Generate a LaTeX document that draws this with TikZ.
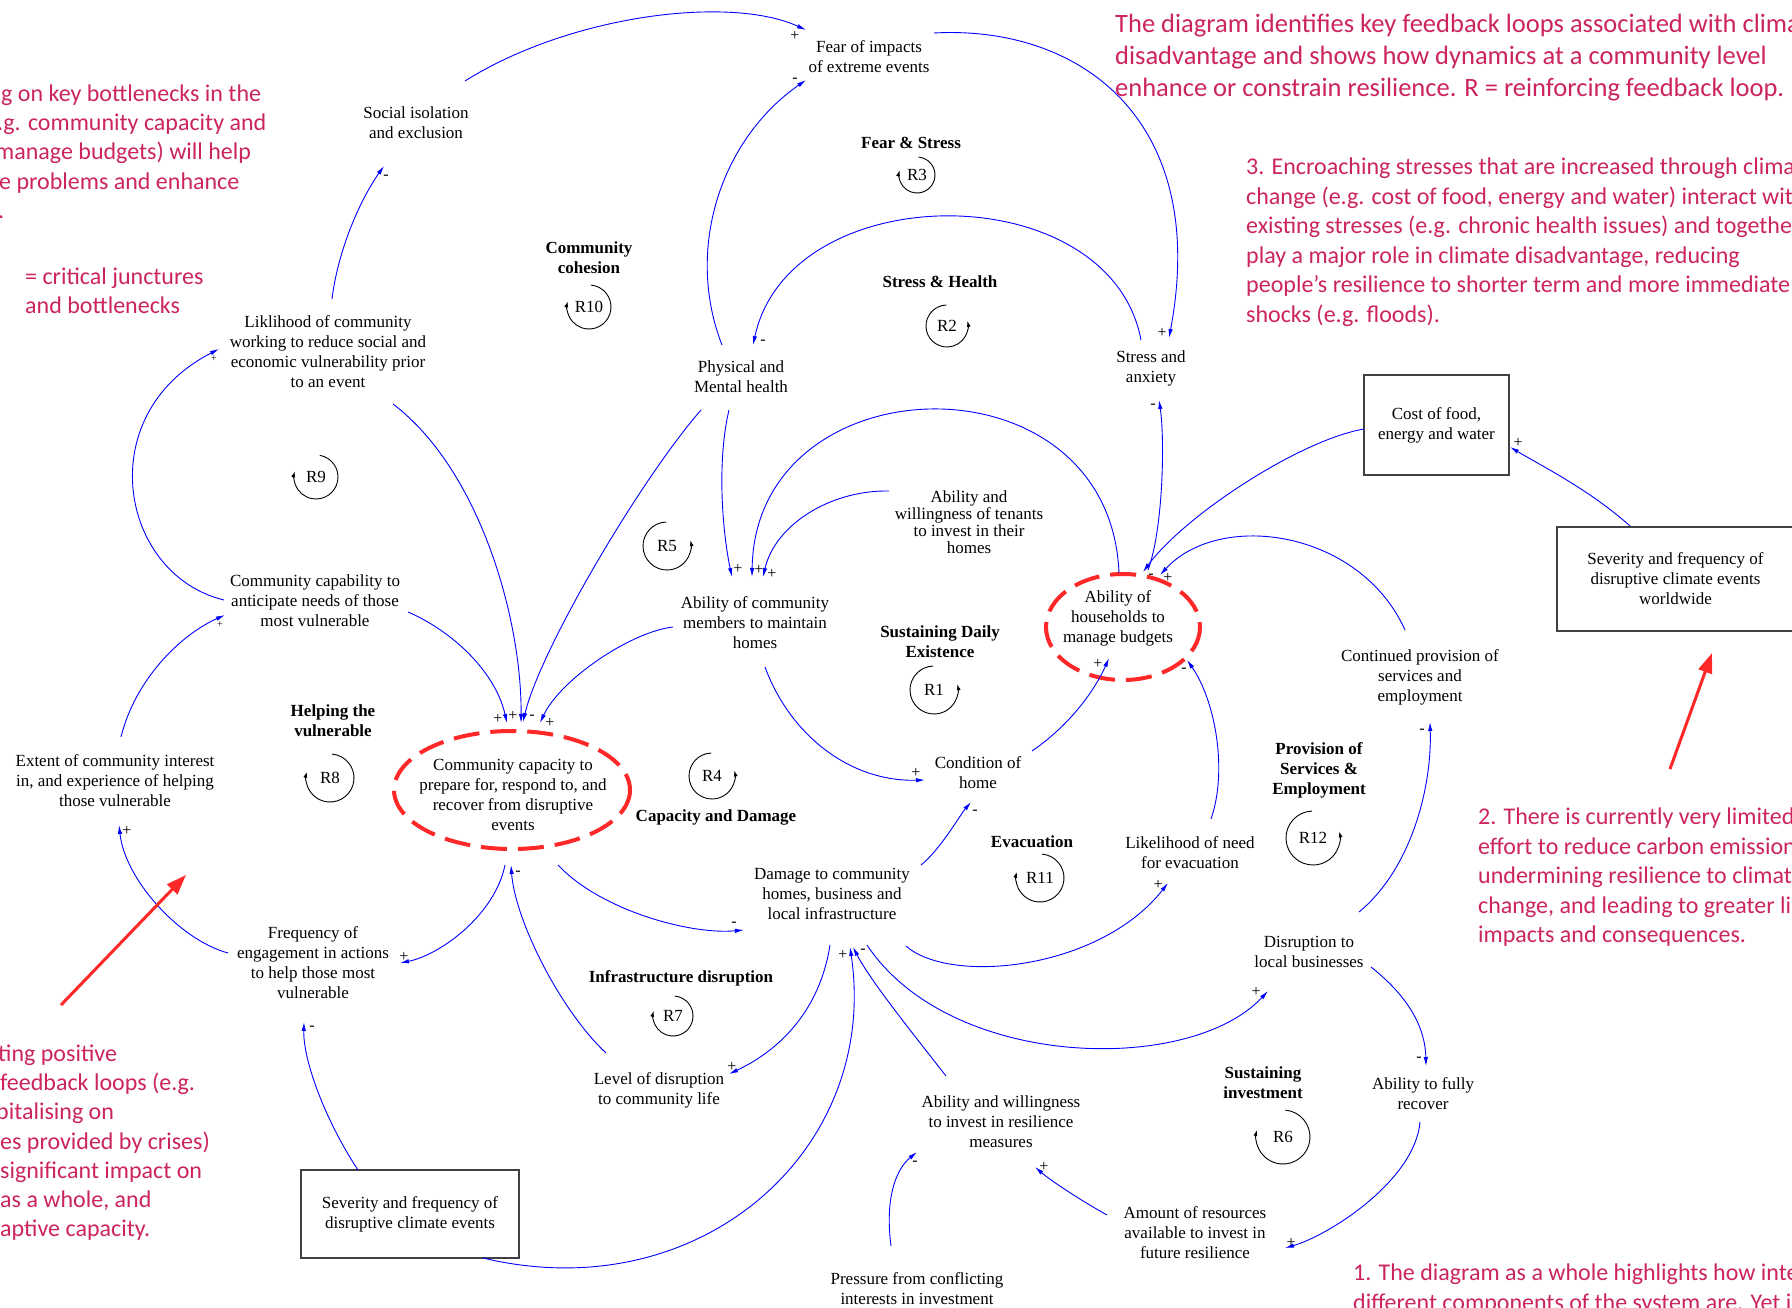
\documentclass[tikz,border=0pt]{standalone}
\usepackage{fontspec}
\setmainfont{Liberation Serif}
\newfontfamily\calib{Carlito}
\usetikzlibrary{arrows.meta}
\definecolor{pinktxt}{RGB}{204,36,96}
\definecolor{critred}{RGB}{255,40,40}
\definecolor{lnk}{RGB}{0,0,255}
\begin{document}
\begin{tikzpicture}[x=1pt,y=-1pt,
 var/.style={font=\fontsize{17}{20}\selectfont, align=center, inner sep=0pt},
 tvar/.style={font=\fontsize{17}{17}\selectfont, align=center, inner sep=0pt},
 lname/.style={font=\bfseries\fontsize{17}{20}\selectfont, align=center, inner sep=0pt},
 rname/.style={font=\fontsize{17}{20}\selectfont, inner sep=0pt},
 extbox/.style={draw=black!75, line width=1.1pt, font=\fontsize{17}{20}\selectfont, align=center, inner sep=0pt},
 lk/.style={draw=lnk, line width=0.9pt, -{Latex[length=9pt,width=4.5pt]}},
 pol/.style={font=\fontsize{16}{16}\selectfont, inner sep=0pt},
 spol/.style={font=\fontsize{10}{10}\selectfont, inner sep=0pt},
 loopar/.style={draw=black, line width=0.9pt, -{Latex[length=6pt,width=4pt]}},
 crit/.style={draw=critred, line width=4pt, dash pattern=on 26pt off 11pt},
 note/.style={font=\calib\fontsize{24}{29.5}\selectfont, text=pinktxt, anchor=base west, inner sep=0pt},
 notebig/.style={font=\calib\fontsize{26.5}{32}\selectfont, text=pinktxt, anchor=base west, inner sep=0pt},
 redarr/.style={draw=critred, line width=3pt, -{Triangle[length=20pt,width=14pt]}}
]
\useasboundingbox (0,0) rectangle (1792,1308);
\begin{scope}
\clip (0,0) rectangle (1792,1308);
\fill[white] (0,0) rectangle (1792,1308);

% ---------- variables ----------
\node[var] (fear) at (869,57) {Fear of impacts\\of extreme events};
\node[var] (soc) at (416,123) {Social isolation\\and exclusion};
\node[lname] (lfs) at (911,143) {Fear \& Stress};
\node[lname] (lcc) at (589,258) {Community\\cohesion};
\node[lname] (lsh) at (940,282) {Stress \& Health};
\node[var] (lik) at (328,352) {Liklihood of community\\working to reduce social and\\economic vulnerability prior\\to an event};
\node[var] (phys) at (741,377) {Physical and\\Mental health};
\node[var] (stress) at (1151,368) {Stress and\\anxiety};
\node[extbox, minimum width=145pt, minimum height=100pt] (cost) at (1436.5,425) {Cost of food,\\energy and water};
\node[tvar] (ten) at (969,522) {Ability and\\willingness of tenants\\to invest in their\\homes};
\node[var] (capab) at (315,601) {Community capability to\\anticipate needs of those\\most vulnerable};
\node[var] (acm) at (755,623) {Ability of community\\members to maintain\\homes};
\node[var] (hh) at (1118,618) {Ability of\\households to\\manage budgets};
\node[extbox, minimum width=237pt, minimum height=104pt] (sevw) at (1675.5,579) {Severity and frequency of\\disruptive climate events\\worldwide};
\node[var] (cont) at (1420,677) {Continued provision of\\services and\\employment};
\node[lname] (lsd) at (940,642) {Sustaining Daily\\Existence};
\node[lname] (lhv) at (333,721) {Helping the\\vulnerable};
\node[var] (ext) at (115,781) {Extent of community interest\\in, and experience of helping\\those vulnerable};
\node[var] (cap) at (513,795) {Community capacity to\\prepare for, respond to, and\\recover from disruptive\\events};
\node[var] (cond) at (978,773) {Condition of\\home};
\node[lname] (lpse) at (1319,770) {Provision of\\Services \&\\Employment};
\node[lname] (lcd) at (716,817) {Capacity and Damage};
\node[lname] (levac) at (1032,842) {Evacuation};
\node[var] (likev) at (1190,853) {Likelihood of need\\for evacuation};
\node[var] (dmg) at (832,894) {Damage to community\\homes, business and\\local infrastructure};
\node[var] (disb) at (1309,952) {Disruption to\\local businesses};
\node[var] (freq) at (313,963) {Frequency of\\engagement in actions\\to help those most\\vulnerable};
\node[lname] (lid) at (681,978) {Infrastructure disruption};
\node[lname] (lsi) at (1263,1083) {Sustaining\\investment};
\node[var] (lev) at (659,1090) {Level of disruption\\to community life};
\node[var] (rec) at (1423,1094) {Ability to fully\\recover};
\node[var] (awr) at (1001,1122) {Ability and willingness\\to invest in resilience\\measures};
\node[extbox, minimum width=218pt, minimum height=88pt] (sevl) at (410,1214) {Severity and frequency of\\disruptive climate events};
\node[var] (amt) at (1195,1233) {Amount of resources\\available to invest in\\future resilience};
\node[var] (press) at (917,1289) {Pressure from conflicting\\interests in investment};

% ---------- critical junctures ----------
\draw[crit] ([shift={(-1,-5)}]cap.center) ellipse [x radius=118, y radius=59];
\draw[crit] ([shift={(5,9)}]hh.center) ellipse [x radius=77, y radius=53];

% ---------- loop symbols ----------
\node[rname] (r3) at (917,175) {R3};
\draw[loopar] (r3.center) ++(-85:18) arc[start angle=-85,end angle=195,radius=18];
\node[rname] (r2) at (947,326) {R2};
\draw[loopar] (r2.center) ++(268:21) arc[start angle=268,end angle=-14,radius=21];
\node[rname] (r10) at (589,307) {R10};
\draw[loopar] (r10.center) ++(-85:22) arc[start angle=-85,end angle=195,radius=22];
\node[rname] (r9) at (316,477) {R9};
\draw[loopar] (r9.center) ++(-80:22) arc[start angle=-80,end angle=195,radius=22];
\node[rname] (r8) at (330,778) {R8};
\draw[loopar] (r8.center) ++(-85:24) arc[start angle=-85,end angle=195,radius=24];
\node[rname] (r5) at (667,546) {R5};
\draw[loopar] (r5.center) ++(268:24) arc[start angle=268,end angle=-14,radius=24];
\node[rname] (r1) at (934,690) {R1};
\draw[loopar] (r1.center) ++(268:24) arc[start angle=268,end angle=-14,radius=24];
\node[rname] (r4) at (712,776) {R4};
\draw[loopar] (r4.center) ++(268:23) arc[start angle=268,end angle=-14,radius=23];
\node[rname] (r12) at (1313,838) {R12};
\draw[loopar] (r12.center) ++(268:27) arc[start angle=268,end angle=-14,radius=27];
\node[rname] (r11) at (1040,878) {R11};
\draw[loopar] (r11.center) ++(-85:24) arc[start angle=-85,end angle=195,radius=24];
\node[rname] (r7) at (673,1016) {R7};
\draw[loopar] (r7.center) ++(-85:20) arc[start angle=-85,end angle=195,radius=20];
\node[rname] (r6) at (1283,1137) {R6};
\draw[loopar] (r6.center) ++(-85:27) arc[start angle=-85,end angle=195,radius=27];

% ---------- causal links ----------
\draw[lk] ([shift={(49,-42)}]soc.center) .. controls (570,15) and (730,-5) .. ([shift={(-63,-27)}]fear.center);
\draw[lk] ([shift={(65,-24)}]fear.center) .. controls (1080,25) and (1210,120) .. ([shift={(18,-30)}]stress.center);
\draw[lk] ([shift={(-19,-32)}]phys.center) .. controls (685,250) and (720,140) .. ([shift={(-63,23)}]fear.center);
\draw[lk] ([shift={(-10,-28)}]stress.center) .. controls (1110,175) and (790,175) .. ([shift={(12,-32)}]phys.center);
\draw[lk] ([shift={(-12,33)}]phys.center) .. controls (717,460) and (722,530) .. ([shift={(-23,-46)}]acm.center);
\draw[lk] ([shift={(-40,33)}]phys.center) .. controls (640,480) and (540,650) .. ([shift={(10,-73)}]cap.center);
\draw[lk] ([shift={(65,52)}]lik.center) .. controls (480,470) and (522,620) .. ([shift={(8,-72)}]cap.center);
\draw[lk] ([shift={(93,11)}]capab.center) .. controls (450,630) and (495,670) .. ([shift={(-6,-72)}]cap.center);
\draw[lk] ([shift={(-82,4)}]acm.center) .. controls (630,632) and (560,680) .. ([shift={(27,-72)}]cap.center);
\draw[lk] ([shift={(-91,-1)}]capab.center) .. controls (120,575) and (90,415) .. ([shift={(-109,-3)}]lik.center);
\draw[lk] ([shift={(4,-53)}]lik.center) .. controls (338,250) and (360,200) .. ([shift={(-32,43)}]soc.center);
\draw[lk] ([shift={(6,-44)}]ext.center) .. controls (135,680) and (180,635) .. ([shift={(-90,14)}]capab.center);
\draw[lk] ([shift={(-85,-10)}]freq.center) .. controls (180,940) and (125,880) .. ([shift={(4,44)}]ext.center);
\draw[lk] ([shift={(-8,70)}]cap.center) .. controls (495,915) and (440,955) .. ([shift={(87,0)}]freq.center);
\draw[lk] ([shift={(-52,-44)}]sevl.center) .. controls (325,1120) and (303,1060) .. ([shift={(-9,59)}]freq.center);
\draw[lk] ([shift={(73,44)}]sevl.center) .. controls (700,1310) and (880,1150) .. ([shift={(18,53)}]dmg.center);
\draw[lk] ([shift={(45,70)}]cap.center) .. controls (600,910) and (690,935) .. ([shift={(-88,36)}]dmg.center);
\draw[lk] ([shift={(-2,51)}]dmg.center) .. controls (820,1010) and (780,1050) .. ([shift={(70,-16)}]lev.center);
\draw[lk] ([shift={(-53,-37)}]lev.center) .. controls (560,1010) and (515,920) .. ([shift={(-2,70)}]cap.center);
\draw[lk] ([shift={(-55,-46)}]awr.center) .. controls (910,1030) and (870,980) .. ([shift={(21,53)}]dmg.center);
\draw[lk] ([shift={(35,51)}]dmg.center) .. controls (950,1070) and (1190,1075) .. ([shift={(-41,39)}]disb.center);
\draw[lk] ([shift={(74,52)}]dmg.center) .. controls (950,985) and (1100,970) .. ([shift={(-22,30)}]likev.center);
\draw[lk] ([shift={(89,-29)}]dmg.center) .. controls (940,850) and (960,815) .. ([shift={(-7,29)}]cond.center);
\draw[lk] ([shift={(10,44)}]acm.center) .. controls (790,735) and (850,782) .. ([shift={(-53,7)}]cond.center);
\draw[lk] ([shift={(54,-22)}]cond.center) .. controls (1070,725) and (1095,690) .. ([shift={(-9,40)}]hh.center);
\draw[lk] ([shift={(21,-34)}]likev.center) .. controls (1228,770) and (1215,700) .. ([shift={(69,42)}]hh.center);
\draw[lk] ([shift={(-15,-47)}]cont.center) .. controls (1360,530) and (1220,510) .. ([shift={(42,-43)}]hh.center);
\draw[lk] ([shift={(-72.5,4)}]cost.center) .. controls (1300,440) and (1185,515) .. ([shift={(25,-46)}]hh.center);
\draw[lk] ([shift={(30,-48)}]hh.center) .. controls (1163,530) and (1165,440) .. ([shift={(8,32)}]stress.center);
\draw[lk] ([shift={(1,-45)}]hh.center) .. controls (1110,350) and (755,360) .. ([shift={(-3,-46)}]acm.center);
\draw[lk] ([shift={(-80,-31)}]ten.center) .. controls (830,490) and (775,525) .. ([shift={(8,-46)}]acm.center);
\draw[lk] ([shift={(50,-40)}]disb.center) .. controls (1410,870) and (1432,790) .. ([shift={(10,45)}]cont.center);
\draw[lk] ([shift={(62,15)}]disb.center) .. controls (1400,990) and (1425,1020) .. ([shift={(3,-28)}]rec.center);
\draw[lk] ([shift={(-3,28)}]rec.center) .. controls (1415,1180) and (1330,1235) .. ([shift={(90,15)}]amt.center);
\draw[lk] ([shift={(-88,-18)}]amt.center) .. controls (1080,1200) and (1050,1180) .. ([shift={(34,45)}]awr.center);
\draw[lk] ([shift={(-26,-43)}]press.center) .. controls (885,1200) and (895,1170) .. ([shift={(-84,30)}]awr.center);
\draw[lk] ([shift={(-45.5,-53)}]sevw.center) .. controls (1590,490) and (1540,465) .. ([shift={(73.5,22)}]cost.center);

% ---------- polarities ----------
\node[pol] (p1) at (795,36) {+};
\node[pol] (p2) at (1162,333) {+};
\node[pol] (p3) at (795,80) {-};
\node[pol] (p4) at (763,342) {-};
\node[pol] (p5) at (738,569) {+};
\node[pol] (p6) at (532,717) {-};
\node[pol] (p7) at (513,716) {+};
\node[pol] (p8) at (498,719) {+};
\node[pol] (p9) at (550,723) {+};
\node[spol] (p10) at (214,359) {+};
\node[pol] (p11) at (386,177) {-};
\node[spol] (p12) at (220,625) {+};
\node[pol] (p13) at (127,831) {+};
\node[pol] (p14) at (404,957) {+};
\node[pol] (p15) at (312,1028) {-};
\node[pol] (p16) at (843,955) {+};
\node[pol] (p17) at (734,924) {-};
\node[pol] (p18) at (732,1067) {+};
\node[pol] (p19) at (518,873) {-};
\node[pol] (p20) at (863,951) {-};
\node[pol] (p21) at (1256,992) {+};
\node[pol] (p22) at (1158,885) {+};
\node[pol] (p23) at (975,812) {-};
\node[pol] (p24) at (916,773) {+};
\node[pol] (p25) at (1098,664) {+};
\node[pol] (p26) at (1184,670) {-};
\node[pol] (p27) at (1168,578) {+};
\node[pol] (p28) at (1151,576) {-};
\node[pol] (p29) at (1153,406) {-};
\node[pol] (p30) at (759,570) {+};
\node[pol] (p31) at (772,574) {+};
\node[pol] (p32) at (1422,731) {-};
\node[pol] (p33) at (1419,1059) {-};
\node[pol] (p34) at (1291,1243) {+};
\node[pol] (p35) at (1044,1167) {+};
\node[pol] (p36) at (915,1163) {-};
\node[pol] (p37) at (1518,443) {+};

% ---------- red annotation arrows ----------
\coordinate (ra1) at (1670,769);
\coordinate (ra2) at (1712,653);
\draw[redarr] (ra1) -- (ra2);
\coordinate (rb1) at (61,1005);
\coordinate (rb2) at (186,875);
\draw[redarr] (rb1) -- (rb2);

% ---------- annotations ----------
\node[notebig] (tr1) at (1115,33) {The diagram identifies key feedback loops associated with climate};
\node[notebig] (tr2) at (1115,65) {disadvantage and shows how dynamics at a community level};
\node[notebig] (tr3) at (1115,97) {enhance or constrain resilience. R = reinforcing feedback loop.};

\node[note] (tl1) at (1,102) {g on key bottlenecks in the};
\node[note] (tl2) at (-15,131) {e.g. community capacity and};
\node[note] (tl3) at (-5,160) {manage budgets) will help};
\node[note] (tl4) at (-1,190) {e problems and enhance};
\node[note] (tl5) at (-2,219) {.};
\node[note] (cj1) at (25,284) {= critical junctures};
\node[note] (cj2) at (25,313) {and bottlenecks};

\node[note] (n31) at (1246,175) {3. Encroaching stresses that are increased through climate};
\node[note] (n32) at (1246,205) {change (e.g. cost of food, energy and water) interact with};
\node[note] (n33) at (1246,234) {existing stresses (e.g. chronic health issues) and together};
\node[note] (n34) at (1246,264) {play a major role in climate disadvantage, reducing};
\node[note] (n35) at (1246,293) {people’s resilience to shorter term and more immediate};
\node[note] (n36) at (1246,322) {shocks (e.g. floods).};

\node[note] (n21) at (1478,824) {2. There is currently very limited};
\node[note] (n22) at (1478,854) {effort to reduce carbon emissions,};
\node[note] (n23) at (1478,883) {undermining resilience to climate};
\node[note] (n24) at (1478,913) {change, and leading to greater likely};
\node[note] (n25) at (1478,942) {impacts and consequences.};

\node[note] (bl1) at (-2,1061) {ting positive};
\node[note] (bl2) at (0,1090) {feedback loops (e.g.};
\node[note] (bl3) at (-4,1119) {pitalising on};
\node[note] (bl4) at (0,1149) {es provided by crises)};
\node[note] (bl5) at (0,1178) {significant impact on};
\node[note] (bl6) at (0,1207) {as a whole, and};
\node[note] (bl7) at (0,1236) {aptive capacity.};

\node[note] (n11) at (1353,1280) {1. The diagram as a whole highlights how interconnected};
\node[note] (n12) at (1353,1310) {different components of the system are. Yet i};
\end{scope}
\end{tikzpicture}
\end{document}
